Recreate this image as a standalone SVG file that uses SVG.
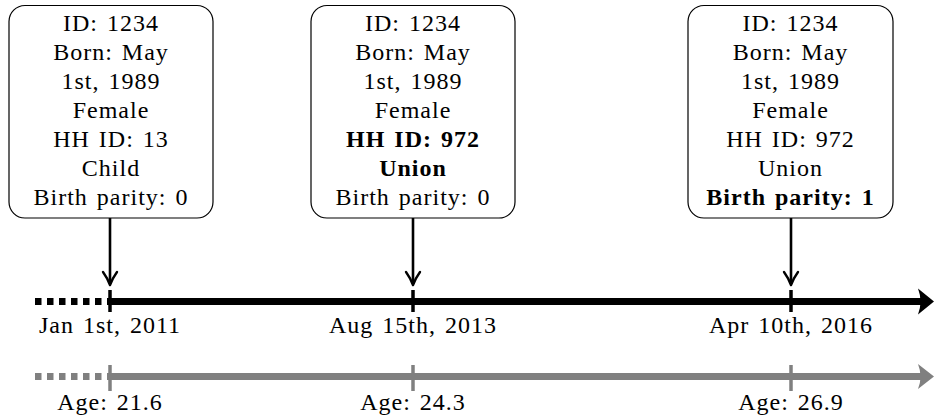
<svg xmlns="http://www.w3.org/2000/svg" width="934" height="420" viewBox="0 0 934 420">
  <style>
    .box { fill: #ffffff; stroke: #000000; stroke-width: 1.2; }
    .t { font-family: "Liberation Serif", "Times New Roman", serif; font-size: 24px; letter-spacing: 1px; word-spacing: 2px; text-anchor: middle; fill: #000000; }
    .b { font-weight: bold; }
    .pointer { stroke: #000000; stroke-width: 2.6; fill: none; }
    .head { stroke: #000000; stroke-width: 2.4; fill: none; stroke-linecap: round; stroke-linejoin: round; }
    .axis { stroke-width: 7; fill: none; }
    .dash { stroke-dasharray: 6.5 5.5; }
    .tick { stroke-width: 3.5; }
    .black { stroke: #000000; }
    .grey { stroke: #808080; }
  </style>

  <!-- record at Jan 1st, 2011 -->
  <g id="record-2011">
    <rect class="box" x="9" y="5.5" width="204" height="212.5" rx="16" ry="16"/>
    <text class="t" x="111" y="31">ID: 1234</text>
    <text class="t" x="111" y="60">Born: May</text>
    <text class="t" x="111" y="89">1st, 1989</text>
    <text class="t" x="111" y="118">Female</text>
    <text class="t" x="111" y="147">HH ID: 13</text>
    <text class="t" x="111" y="176">Child</text>
    <text class="t" x="111" y="205">Birth parity: 0</text>
  </g>

  <!-- record at Aug 15th, 2013 -->
  <g id="record-2013">
    <rect class="box" x="311" y="5.5" width="204" height="212.5" rx="16" ry="16"/>
    <text class="t" x="413" y="31">ID: 1234</text>
    <text class="t" x="413" y="60">Born: May</text>
    <text class="t" x="413" y="89">1st, 1989</text>
    <text class="t" x="413" y="118">Female</text>
    <text class="t b" x="413" y="147">HH ID: 972</text>
    <text class="t b" x="413" y="176">Union</text>
    <text class="t" x="413" y="205">Birth parity: 0</text>
  </g>

  <!-- record at Apr 10th, 2016 -->
  <g id="record-2016">
    <rect class="box" x="688" y="5.5" width="205" height="212.5" rx="16" ry="16"/>
    <text class="t" x="790.5" y="31">ID: 1234</text>
    <text class="t" x="790.5" y="60">Born: May</text>
    <text class="t" x="790.5" y="89">1st, 1989</text>
    <text class="t" x="790.5" y="118">Female</text>
    <text class="t" x="790.5" y="147">HH ID: 972</text>
    <text class="t" x="790.5" y="176">Union</text>
    <text class="t b" x="790.5" y="205">Birth parity: 1</text>
  </g>

  <!-- calendar axis -->
  <g id="date-axis">
    <line class="axis dash black" x1="35" y1="301.5" x2="107" y2="301.5"/>
    <line class="axis black" x1="107" y1="301.5" x2="922" y2="301.5"/>
    <path d="M 934 301.5 L 918 288.5 Q 923 301.5 918 314.5 Z" fill="#000000"/>
    <line class="tick black" x1="110" y1="290" x2="110" y2="312"/>
    <line class="tick black" x1="413" y1="290" x2="413" y2="312"/>
    <line class="tick black" x1="791" y1="290" x2="791" y2="312"/>
    <text class="t" x="110" y="333">Jan 1st, 2011</text>
    <text class="t" x="413" y="333">Aug 15th, 2013</text>
    <text class="t" x="791" y="333">Apr 10th, 2016</text>
  </g>

  <!-- age axis -->
  <g id="age-axis">
    <line class="axis dash grey" x1="35" y1="376.5" x2="107" y2="376.5"/>
    <line class="axis grey" x1="107" y1="376.5" x2="922" y2="376.5"/>
    <path d="M 934 376.5 L 918 364 Q 923 376.5 918 389 Z" fill="#808080"/>
    <line class="tick grey" x1="110" y1="365" x2="110" y2="391"/>
    <line class="tick grey" x1="413" y1="365" x2="413" y2="391"/>
    <line class="tick grey" x1="791" y1="365" x2="791" y2="391"/>
    <text class="t" x="110" y="410">Age: 21.6</text>
    <text class="t" x="413" y="410">Age: 24.3</text>
    <text class="t" x="791" y="410">Age: 26.9</text>
  </g>

  <!-- pointers from records down to the date axis -->
  <g id="connectors">
    <line class="pointer" x1="110" y1="218" x2="110" y2="284"/>
    <path class="head" d="M 103 272 Q 108 279 110 285 Q 112 279 117 272"/>
    <line class="pointer" x1="413" y1="218" x2="413" y2="284"/>
    <path class="head" d="M 406 272 Q 411 279 413 285 Q 415 279 420 272"/>
    <line class="pointer" x1="791" y1="218" x2="791" y2="284"/>
    <path class="head" d="M 784 272 Q 789 279 791 285 Q 793 279 798 272"/>
  </g>
</svg>
